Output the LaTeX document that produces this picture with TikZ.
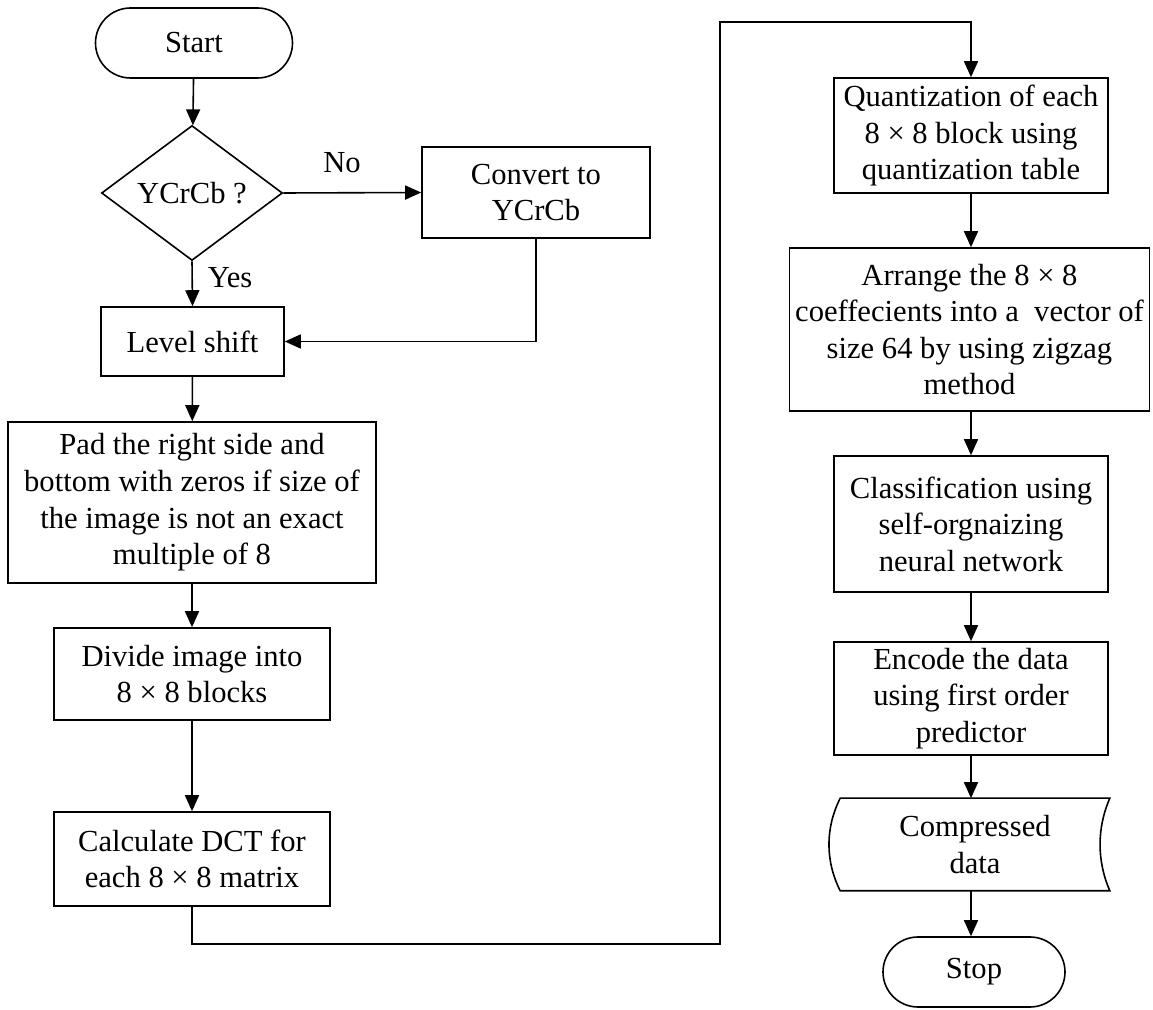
\documentclass[tikz,border=0pt]{standalone}
\usepackage{fontspec}
\setmainfont{Liberation Serif}
\usetikzlibrary{arrows.meta,shapes.geometric,shapes.misc}
\begin{document}
\begin{tikzpicture}[x=0.5pt,y=-0.5pt,
  font=\fontsize{15.3}{18.3}\selectfont,
  every node/.style={align=center,inner sep=0pt,line width=0.8pt},
  procbox/.style={draw,rectangle},
  term/.style={draw,rounded rectangle,minimum width=#1,minimum height=35pt},
  decision/.style={draw,diamond,minimum width=90.5pt,minimum height=67.5pt},
  flow/.style={line width=0.8pt,-{Triangle[length=8pt,width=7pt]}},
  wire/.style={line width=0.8pt}]
\useasboundingbox (0,0) rectangle (1153,1010);

% left column
\node[term=98.5pt] (start) at (194,43) {Start};
\node[decision] (dec) at (192,193) {YCrCb ?};
\node[procbox,minimum width=114pt,minimum height=45.5pt] (conv) at (536,192.5) {Convert to\\YCrCb};
\node[procbox,minimum width=91.5pt,minimum height=34.5pt] (lvl) at (192.5,341.5) {Level shift};
\node[procbox,minimum width=184pt,minimum height=80.5pt] (pad) at (192,502.5)
  {Pad the right side and\\bottom with zeros if size of\\the image is not an exact\\multiple of 8};
\node[procbox,minimum width=138pt,minimum height=46pt] (div) at (192,674) {Divide image into\\8 × 8 blocks};
\node[procbox,minimum width=138pt,minimum height=47pt] (calc) at (192,859) {Calculate DCT for\\each 8 × 8 matrix};

% right column
\node[procbox,minimum width=137pt,minimum height=57.5pt] (quant) at (971,135.5)
  {Quantization of each\\8 × 8 block using\\quantization table};
\node[procbox,minimum width=180pt,minimum height=81.5pt] (arr) at (969.5,329.5)
  {Arrange the 8 × 8\\coeffecients into a\ \ vector of\\size 64 by using zigzag\\method};
\node[procbox,minimum width=137pt,minimum height=68pt] (cls) at (971,524)
  {Classification using\\self-orgnaizing\\neural network};
\node[procbox,minimum width=137pt,minimum height=56.5pt] (enc) at (971,698.5)
  {Encode the data\\using first order\\predictor};
\node[minimum width=134pt,minimum height=45.5pt] (cd) at (975,844.5) {Compressed\\data};
\draw[wire] (cd.north west) -- (cd.north east)
  .. controls +(-13,30) and +(-13,-30) .. (cd.south east)
  -- (cd.south west)
  .. controls +(-15,-30) and +(-15,30) .. (cd.north west) -- cycle;
\node[term=91pt] (stop) at (974,972) {Stop};

% branch labels
\node (no) at (342,163) {No};
\node[anchor=west] (yes) at (207,278) {Yes};

% connectors
\draw[flow] (start) -- (dec);
\draw[flow] (dec.east) -- (conv.west);
\draw[flow] (dec.south) -- (lvl.north);
\draw[flow] (conv.south) |- (lvl.east);
\draw[flow] (lvl) -- (pad);
\draw[flow] (pad) -- (div);
\draw[flow] (div) -- (calc);

\coordinate (r1) at (720,944);
\coordinate (r2) at (720,22);
\draw[flow] (calc.south) |- (r1) -- (r2) -| (quant.north);

\draw[flow] (quant.south) -- (quant.south |- arr.north);
\draw[flow] (arr.south -| quant.south) -- (cls.north);
\draw[flow] (cls) -- (enc);
\draw[flow] (enc.south) -- (enc.south |- cd.north);
\draw[flow] (cd.south -| enc.south) -- (enc.south |- stop.north);
\end{tikzpicture}
\end{document}
